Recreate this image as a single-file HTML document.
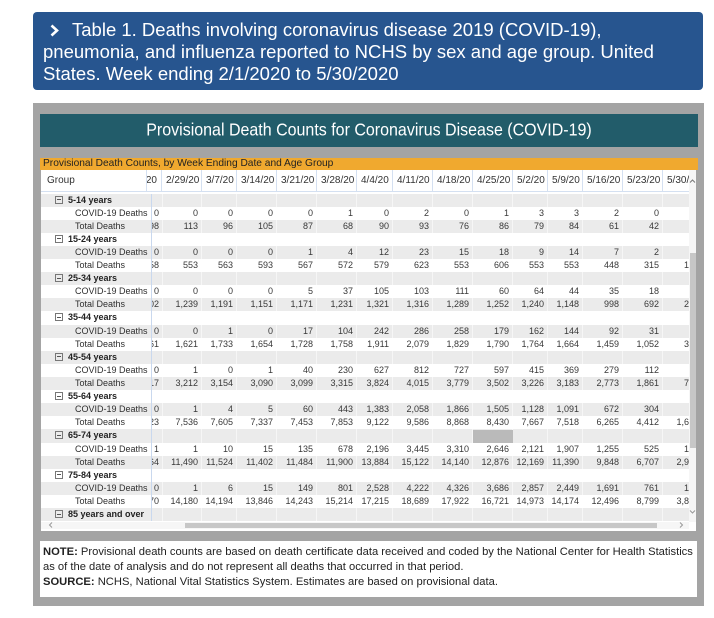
<!DOCTYPE html>
<html><head><meta charset="utf-8">
<style>
*{margin:0;padding:0;box-sizing:border-box}
html,body{width:714px;height:618px;overflow:hidden;background:#fff;font-family:"Liberation Sans",Arial,sans-serif}
.a{position:absolute}
#hdr{left:33px;top:12px;width:670px;height:78px;background:#27558f;border-radius:4px;color:#fff;font-size:18.5px;line-height:22.2px}
#hdr .l{position:absolute;white-space:nowrap}
#panel{left:33px;top:103px;width:671px;height:503px;background:#a4a4a4}
#teal{left:40px;top:114px;width:658px;height:33px;background:#225c6a;color:#fff;font-size:16px;line-height:33px;text-align:center;white-space:nowrap}
#teal span{display:inline-block;transform:scaleY(1.12)}
#orange{left:40px;top:158px;width:658px;height:12px;background:#f0a92f;font-size:10.2px;line-height:12px;color:#222;padding-left:3px;white-space:nowrap;overflow:hidden}
#white{left:41px;top:170px;width:655px;height:361px;background:#fff}
#head{left:41px;top:170px;width:648px;height:23px;overflow:hidden;display:flex;font-size:10px;color:#333;line-height:21px}
.h{flex:none;height:22px;border-right:1px solid #d4e0f1;border-bottom:1px solid #d4e0f1;padding-left:4px;white-space:nowrap;overflow:hidden}
.hc{display:flex;justify-content:flex-end;padding-left:0;padding-right:4px}
#tb{left:41px;top:193.5px;width:648px;height:328px;overflow:hidden;font-size:9px;color:#383838}
.r{width:662px;height:13.12px;display:flex;line-height:13.12px;white-space:nowrap}
.g{background:#ebebeb}
.rh{flex:none;width:111px;border-right:1px solid #c9d8ee;padding-left:34px;overflow:hidden;color:#2e2e2e}
.grp .rh{padding-left:14px;font-weight:bold;color:#222}
.r i{font-style:normal;flex:none;display:flex;justify-content:flex-end;padding-right:4px;overflow:hidden}
.r>:nth-child(2){width:11px}
.r>:nth-child(3){width:39px}
.r>:nth-child(4){width:35px}
.r>:nth-child(5),.r>:nth-child(6),.r>:nth-child(7){width:40px}
.r>:nth-child(8){width:36px}
.r>:nth-child(9),.r>:nth-child(10),.r>:nth-child(11){width:40px}
.r>:nth-child(12),.r>:nth-child(13){width:35px}
.r>:nth-child(14),.r>:nth-child(15),.r>:nth-child(16){width:40px}
s{display:inline-block;width:8px;height:8px;border:1px solid #777;margin-right:5px;vertical-align:-1px;position:relative;text-decoration:none}
s::after{content:"";position:absolute;left:1px;top:2.5px;width:4px;height:1px;background:#555}
.sep{position:absolute;top:0;width:1px;height:328px;background:rgba(255,255,255,.55)}
#note{left:40px;top:541px;width:657px;height:56px;background:#fff;font-size:11.2px;line-height:15px;color:#222;padding:3.5px 0 0 3px;white-space:nowrap;overflow:hidden}
</style></head><body>

<div id="hdr" class="a">
<svg class="a" style="left:0;top:0" width="40" height="40"><polyline points="18.5,13.5 24,18.5 18.5,23.5" fill="none" stroke="#fff" stroke-width="2.6"/></svg>
<div class="l" style="left:39px;top:6.8px">Table 1. Deaths involving coronavirus disease 2019 (COVID-19),</div>
<div class="l" style="left:10px;top:29px">pneumonia, and influenza reported to NCHS by sex and age group. United</div>
<div class="l" style="left:10px;top:51.2px">States. Week ending 2/1/2020 to 5/30/2020</div>
</div>

<div id="panel" class="a"></div>
<div id="teal" class="a"><span>Provisional Death Counts for Coronavirus Disease (COVID-19)</span></div>
<div id="white" class="a"></div>
<div id="orange" class="a">Provisional Death Counts, by Week Ending Date and Age Group</div>

<div id="head" class="a">
<span class="h" style="width:106px;padding-left:6px">Group</span>
<span class="h hc" style="width:15px">2/22/20</span>
<span class="h" style="width:40px">2/29/20</span>
<span class="h" style="width:35px">3/7/20</span>
<span class="h" style="width:40px">3/14/20</span>
<span class="h" style="width:40px">3/21/20</span>
<span class="h" style="width:40px">3/28/20</span>
<span class="h" style="width:36px">4/4/20</span>
<span class="h" style="width:40px">4/11/20</span>
<span class="h" style="width:40px">4/18/20</span>
<span class="h" style="width:40px">4/25/20</span>
<span class="h" style="width:35px">5/2/20</span>
<span class="h" style="width:35px">5/9/20</span>
<span class="h" style="width:40px">5/16/20</span>
<span class="h" style="width:40px">5/23/20</span>
<span class="h" style="width:40px">5/30/20</span>
</div>

<div id="tb" class="a">
<div class="r g grp"><span class="rh"><s></s>5-14 years</span></div>
<div class="r"><span class="rh">COVID-19 Deaths</span><i>0</i><i>0</i><i>0</i><i>0</i><i>0</i><i>1</i><i>0</i><i>2</i><i>0</i><i>1</i><i>3</i><i>3</i><i>2</i><i>0</i><i>0</i></div>
<div class="r g"><span class="rh">Total Deaths</span><i>1,098</i><i>113</i><i>96</i><i>105</i><i>87</i><i>68</i><i>90</i><i>93</i><i>76</i><i>86</i><i>79</i><i>84</i><i>61</i><i>42</i><i>9</i></div>
<div class="r grp"><span class="rh"><s></s>15-24 years</span></div>
<div class="r g"><span class="rh">COVID-19 Deaths</span><i>0</i><i>0</i><i>0</i><i>0</i><i>1</i><i>4</i><i>12</i><i>23</i><i>15</i><i>18</i><i>9</i><i>14</i><i>7</i><i>2</i><i>0</i></div>
<div class="r"><span class="rh">Total Deaths</span><i>558</i><i>553</i><i>563</i><i>593</i><i>567</i><i>572</i><i>579</i><i>623</i><i>553</i><i>606</i><i>553</i><i>553</i><i>448</i><i>315</i><i>150</i></div>
<div class="r g grp"><span class="rh"><s></s>25-34 years</span></div>
<div class="r"><span class="rh">COVID-19 Deaths</span><i>0</i><i>0</i><i>0</i><i>0</i><i>5</i><i>37</i><i>105</i><i>103</i><i>111</i><i>60</i><i>64</i><i>44</i><i>35</i><i>18</i><i>5</i></div>
<div class="r g"><span class="rh">Total Deaths</span><i>1,202</i><i>1,239</i><i>1,191</i><i>1,151</i><i>1,171</i><i>1,231</i><i>1,321</i><i>1,316</i><i>1,289</i><i>1,252</i><i>1,240</i><i>1,148</i><i>998</i><i>692</i><i>250</i></div>
<div class="r grp"><span class="rh"><s></s>35-44 years</span></div>
<div class="r g"><span class="rh">COVID-19 Deaths</span><i>0</i><i>0</i><i>1</i><i>0</i><i>17</i><i>104</i><i>242</i><i>286</i><i>258</i><i>179</i><i>162</i><i>144</i><i>92</i><i>31</i><i>9</i></div>
<div class="r"><span class="rh">Total Deaths</span><i>1,661</i><i>1,621</i><i>1,733</i><i>1,654</i><i>1,728</i><i>1,758</i><i>1,911</i><i>2,079</i><i>1,829</i><i>1,790</i><i>1,764</i><i>1,664</i><i>1,459</i><i>1,052</i><i>380</i></div>
<div class="r g grp"><span class="rh"><s></s>45-54 years</span></div>
<div class="r"><span class="rh">COVID-19 Deaths</span><i>0</i><i>1</i><i>0</i><i>1</i><i>40</i><i>230</i><i>627</i><i>812</i><i>727</i><i>597</i><i>415</i><i>369</i><i>279</i><i>112</i><i>8</i></div>
<div class="r g"><span class="rh">Total Deaths</span><i>3,217</i><i>3,212</i><i>3,154</i><i>3,090</i><i>3,099</i><i>3,315</i><i>3,824</i><i>4,015</i><i>3,779</i><i>3,502</i><i>3,226</i><i>3,183</i><i>2,773</i><i>1,861</i><i>760</i></div>
<div class="r grp"><span class="rh"><s></s>55-64 years</span></div>
<div class="r g"><span class="rh">COVID-19 Deaths</span><i>0</i><i>1</i><i>4</i><i>5</i><i>60</i><i>443</i><i>1,383</i><i>2,058</i><i>1,866</i><i>1,505</i><i>1,128</i><i>1,091</i><i>672</i><i>304</i><i>9</i></div>
<div class="r"><span class="rh">Total Deaths</span><i>7,623</i><i>7,536</i><i>7,605</i><i>7,337</i><i>7,453</i><i>7,853</i><i>9,122</i><i>9,586</i><i>8,868</i><i>8,430</i><i>7,667</i><i>7,518</i><i>6,265</i><i>4,412</i><i>1,640</i></div>
<div class="r g grp"><span class="rh"><s></s>65-74 years</span></div>
<div class="r"><span class="rh">COVID-19 Deaths</span><i>1</i><i>1</i><i>10</i><i>15</i><i>135</i><i>678</i><i>2,196</i><i>3,445</i><i>3,310</i><i>2,646</i><i>2,121</i><i>1,907</i><i>1,255</i><i>525</i><i>150</i></div>
<div class="r g"><span class="rh">Total Deaths</span><i>11,464</i><i>11,490</i><i>11,524</i><i>11,402</i><i>11,484</i><i>11,900</i><i>13,884</i><i>15,122</i><i>14,140</i><i>12,876</i><i>12,169</i><i>11,390</i><i>9,848</i><i>6,707</i><i>2,950</i></div>
<div class="r grp"><span class="rh"><s></s>75-84 years</span></div>
<div class="r g"><span class="rh">COVID-19 Deaths</span><i>0</i><i>1</i><i>6</i><i>15</i><i>149</i><i>801</i><i>2,528</i><i>4,222</i><i>4,326</i><i>3,686</i><i>2,857</i><i>2,449</i><i>1,691</i><i>761</i><i>180</i></div>
<div class="r"><span class="rh">Total Deaths</span><i>14,170</i><i>14,180</i><i>14,194</i><i>13,846</i><i>14,243</i><i>15,214</i><i>17,215</i><i>18,689</i><i>17,922</i><i>16,721</i><i>14,973</i><i>14,174</i><i>12,496</i><i>8,799</i><i>3,850</i></div>
<div class="r g grp"><span class="rh"><s></s>85 years and over</span></div>

<div class="sep" style="left:121px"></div>
<div class="sep" style="left:160px"></div>
<div class="sep" style="left:195px"></div>
<div class="sep" style="left:235px"></div>
<div class="sep" style="left:275px"></div>
<div class="sep" style="left:315px"></div>
<div class="sep" style="left:351px"></div>
<div class="sep" style="left:391px"></div>
<div class="sep" style="left:431px"></div>
<div class="sep" style="left:471px"></div>
<div class="sep" style="left:506px"></div>
<div class="sep" style="left:541px"></div>
<div class="sep" style="left:581px"></div>
<div class="sep" style="left:621px"></div>
<div class="a" style="left:432px;top:236.16px;width:40px;height:13.12px;background:#bababa"></div>
</div>

<!-- vertical scrollbar -->
<div class="a" style="left:689px;top:170px;width:7px;height:351.5px;background:#f6f6f6"></div>
<div class="a" style="left:689.5px;top:253px;width:6px;height:195px;background:#c7c7c7"></div>
<svg class="a" style="left:689px;top:177px" width="7" height="8"><polyline points="1,5.5 3.5,3 6,5.5" fill="none" stroke="#777" stroke-width="1"/></svg>
<svg class="a" style="left:689px;top:508px" width="7" height="8"><polyline points="1,2.5 3.5,5 6,2.5" fill="none" stroke="#999" stroke-width="1"/></svg>

<!-- horizontal scrollbar -->
<div class="a" style="left:41px;top:521.5px;width:648px;height:7px;background:#f6f6f6"></div>
<div class="a" style="left:185px;top:522.5px;width:472px;height:5px;background:#c7c7c7"></div>
<svg class="a" style="left:47px;top:521px" width="8" height="8"><polyline points="5,1.5 2.5,4 5,6.5" fill="none" stroke="#999" stroke-width="1"/></svg>
<svg class="a" style="left:677px;top:521px" width="8" height="8"><polyline points="3,1.5 5.5,4 3,6.5" fill="none" stroke="#999" stroke-width="1"/></svg>

<div id="note" class="a"><b>NOTE:</b> Provisional death counts are based on death certificate data received and coded by the National Center for Health Statistics<br>as of the date of analysis and do not represent all deaths that occurred in that period.<br><b>SOURCE:</b> NCHS, National Vital Statistics System. Estimates are based on provisional data.</div>

</body></html>
